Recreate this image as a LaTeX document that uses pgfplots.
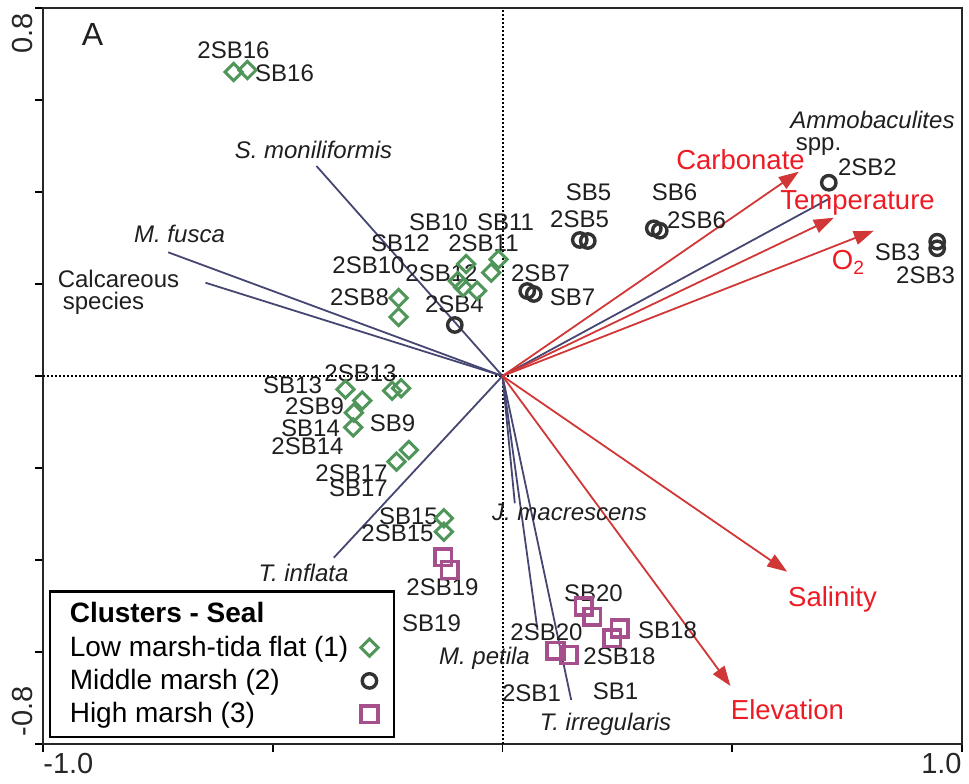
\documentclass[border=0pt]{standalone}
\usepackage{fontspec}
\setmainfont{Liberation Sans}
\usepackage{pgfplots}
\pgfplotsset{compat=1.18}
\usetikzlibrary{arrows.meta}
\definecolor{dgreen}{RGB}{80,150,90}
\definecolor{dcirc}{RGB}{50,50,50}
\definecolor{dsq}{RGB}{165,80,140}
\definecolor{darr}{RGB}{210,55,55}
\definecolor{dtxt}{RGB}{237,28,36}
\definecolor{dspec}{RGB}{70,70,115}
\begin{document}
\begin{tikzpicture}[
  lab/.style={inner sep=0pt, font=\fontsize{12}{12}\selectfont, text=black!88, text height=8.6pt, text depth=0pt},
  spec/.style={lab, font=\fontsize{12}{12}\selectfont\itshape},
  env/.style={inner sep=0pt, font=\fontsize{13.75}{14}\selectfont, text=dtxt, text height=9.85pt, text depth=0pt},
  tl/.style={inner sep=0pt, font=\fontsize{14.5}{14.5}\selectfont, text=black!85}
]
\useasboundingbox (-21.5pt,-19.5pt) rectangle (463pt,372pt);
\begin{axis}[
  at={(0,0)}, anchor=south west,
  scale only axis, width=459.5pt, height=368pt,
  xmin=-1, xmax=1, ymin=-0.8, ymax=0.8,
  xtick={-1,-0.5,0,0.5,1},
  ytick={-0.8,-0.6,-0.4,-0.2,0,0.2,0.4,0.6,0.8},
  xticklabels={}, yticklabels={},
  tick align=outside, xtick pos=left, ytick pos=left,
  major tick length=4pt,
  tick style={line width=0.9pt, black},
  axis line style={line width=1.4pt, black!85},
  clip=false,
  legend plot pos=right,
  legend cell align=left,
  legend style={
    at={(rel axis cs:0.006,0.008)}, anchor=south west,
    draw=black, line width=1.3pt,
    font=\fontsize{14}{16}\selectfont,
    inner xsep=8pt, inner ysep=4pt,
    row sep=2pt,
    nodes={inner xsep=2pt, inner ysep=1.5pt},
  },
]
\addlegendimage{empty legend}
\addlegendentry{\textbf{Clusters - Seal}}

% zero lines
\addplot[forget plot, dash pattern=on 1pt off 1pt, line width=1pt, black] coordinates {(-1,0) (1,0)};
\addplot[forget plot, dash pattern=on 1pt off 1pt, line width=1pt, black] coordinates {(0,-0.8) (0,0.8)};

% species lines
\addplot[forget plot, dspec, line width=0.9pt] coordinates {(0,0) (-0.4048,0.4565)};
\addplot[forget plot, dspec, line width=0.9pt] coordinates {(0,0) (-0.7275,0.2689)};
\addplot[forget plot, dspec, line width=0.9pt] coordinates {(0,0) (-0.6464,0.2028)};
\addplot[forget plot, dspec, line width=0.9pt] coordinates {(0,0) (0.7138,0.3870)};
\addplot[forget plot, dspec, line width=0.9pt] coordinates {(0,0) (-0.3671,-0.3950)};
\addplot[forget plot, dspec, line width=0.9pt] coordinates {(0,0) (0.0268,-0.2767)};
\addplot[forget plot, dspec, line width=0.9pt] coordinates {(0,0) (0.0762,-0.5522)};
\addplot[forget plot, dspec, line width=0.9pt] coordinates {(0,0) (0.1495,-0.7043)};

% environmental arrows
\addplot[forget plot, darr, line width=0.9pt, -{Triangle[length=10pt,width=7pt]}] coordinates {(0,0) (0.6448,0.4441)};
\addplot[forget plot, darr, line width=0.9pt, -{Triangle[length=10pt,width=7pt]}] coordinates {(0,0) (0.7210,0.3441)};
\addplot[forget plot, darr, line width=0.9pt, -{Triangle[length=10pt,width=7pt]}] coordinates {(0,0) (0.8081,0.3159)};
\addplot[forget plot, darr, line width=0.9pt, -{Triangle[length=10pt,width=7pt]}] coordinates {(0,0) (0.6196,-0.4254)};
\addplot[forget plot, darr, line width=0.9pt, -{Triangle[length=10pt,width=7pt]}] coordinates {(0,0) (0.4962,-0.6739)};

% samples
\addplot[only marks, mark=square, mark size=3.05pt, mark options={rotate=45, draw=dgreen, line width=1.5pt}] coordinates {
(-0.5854,0.6609) (-0.5550,0.6652) (-0.2263,0.1696) (-0.2263,0.1283) (-0.0790,0.2435)
(-0.0973,0.2065) (-0.0855,0.1928) (-0.0551,0.1854) (-0.0246,0.2246) (-0.0087,0.2537)
(-0.3417,-0.0289) (-0.3053,-0.0537) (-0.3236,-0.0798) (-0.3249,-0.1115) (-0.2400,-0.0320)
(-0.2205,-0.0267) (-0.2307,-0.1863) (-0.2039,-0.1609) (-0.1277,-0.3093) (-0.1277,-0.3385)};
\addlegendentry{Low marsh-tida flat (1)}
\addplot[only marks, mark=o, mark size=3.6pt, mark options={draw=dcirc, line width=1.7pt}] coordinates {
(-0.1038,0.1109) (0.1682,0.2957) (0.1856,0.2935) (0.3293,0.3211) (0.3423,0.3159)
(0.0538,0.1848) (0.0681,0.1783) (0.7101,0.4202) (0.9460,0.2920) (0.9460,0.2776)};
\addlegendentry{Middle marsh (2)}
\addplot[only marks, mark=square, mark size=4.2pt, mark options={draw=dsq, line width=1.8pt}] coordinates {
(-0.1291,-0.3941) (-0.1147,-0.4217) (0.1769,-0.5015) (0.1952,-0.5233) (0.2553,-0.5485)
(0.2387,-0.5702) (0.1153,-0.5972) (0.1443,-0.6065)};
\addlegendentry{High marsh (3)}

% tick labels
\node[tl, anchor=north west] at ([yshift=-4.5pt]rel axis cs:0,0) {-1.0};
\node[tl, anchor=north east] at ([yshift=-4.5pt]rel axis cs:1,0) {1.0};
\node[tl, rotate=90, anchor=south east] at ([xshift=-4.75pt,yshift=-2.5pt]rel axis cs:0,1) {0.8};
\node[tl, rotate=90, anchor=south west] at ([xshift=-4.75pt,yshift=3.5pt]rel axis cs:0,0) {-0.8};

% panel letter
\node[inner sep=0pt, font=\fontsize{16}{16}\selectfont, text=black!88, text height=11.5pt, text depth=0pt] at (axis cs:-0.8923,0.7435) {A};

% sample labels
\node[lab] at (axis cs:-0.5854,0.7087) {2SB16};
\node[lab] at (axis cs:-0.4744,0.6587) {SB16};
\node[lab] at (axis cs:-0.1393,0.3348) {SB10};
\node[lab] at (axis cs:0.0065,0.3348) {SB11};
\node[lab] at (axis cs:-0.2220,0.2891) {SB12};
\node[lab] at (axis cs:-0.0413,0.2891) {2SB11};
\node[lab] at (axis cs:-0.2916,0.2413) {2SB10};
\node[lab] at (axis cs:-0.1328,0.2239) {2SB12};
\node[lab] at (axis cs:-0.3112,0.1717) {2SB8};
\node[lab] at (axis cs:-0.1045,0.1565) {2SB4};
\node[lab] at (axis cs:0.1872,0.4000) {SB5};
\node[lab] at (axis cs:0.1676,0.3413) {2SB5};
\node[lab] at (axis cs:0.3743,0.4000) {SB6};
\node[lab] at (axis cs:0.4222,0.3391) {2SB6};
\node[lab] at (axis cs:0.0827,0.2239) {2SB7};
\node[lab] at (axis cs:0.1523,0.1717) {SB7};
\node[lab] at (axis cs:0.7943,0.4543) {2SB2};
\node[lab] at (axis cs:0.8596,0.2696) {SB3};
\node[lab] at (axis cs:0.9206,0.2196) {2SB3};
\node[lab] at (axis cs:-0.3090,0.0065) {2SB13};
\node[lab] at (axis cs:-0.4570,-0.0196) {SB13};
\node[lab] at (axis cs:-0.4091,-0.0652) {2SB9};
\node[lab] at (axis cs:-0.2394,-0.1022) {SB9};
\node[lab] at (axis cs:-0.4178,-0.1130) {SB14};
\node[lab] at (axis cs:-0.4244,-0.1522) {2SB14};
\node[lab] at (axis cs:-0.3286,-0.2109) {2SB17};
\node[lab] at (axis cs:-0.3134,-0.2435) {SB17};
\node[lab] at (axis cs:-0.2046,-0.3043) {SB15};
\node[lab] at (axis cs:-0.2285,-0.3413) {2SB15};
\node[lab] at (axis cs:-0.1306,-0.4587) {2SB19};
\node[lab] at (axis cs:-0.1545,-0.5370) {SB19};
\node[lab] at (axis cs:0.1980,-0.4717) {SB20};
\node[lab] at (axis cs:0.0958,-0.5565) {2SB20};
\node[lab] at (axis cs:0.3591,-0.5522) {SB18};
\node[lab] at (axis cs:0.2546,-0.6087) {2SB18};
\node[lab] at (axis cs:0.0631,-0.6891) {2SB1};
\node[lab] at (axis cs:0.2459,-0.6848) {SB1};

% species labels
\node[spec] at (axis cs:-0.4113,0.4913) {S. moniliformis};
\node[spec] at (axis cs:-0.7029,0.3087) {M. fusca};
\node[lab] at (axis cs:-0.8357,0.2109) {Calcareous};
\node[lab] at (axis cs:-0.8683,0.1630) {species};
\node[spec] at (axis cs:0.8052,0.5565) {Ammobaculites};
\node[lab] at (axis cs:0.6877,0.5087) {spp.};
\node[spec] at (axis cs:0.1458,-0.2957) {J. macrescens};
\node[spec] at (axis cs:-0.4331,-0.4283) {T. inflata};
\node[spec] at (axis cs:-0.0392,-0.6087) {M. petila};
\node[spec] at (axis cs:0.2242,-0.7522) {T. irregularis};

% environmental labels
\node[env] at (axis cs:0.5180,0.4696) {Carbonate};
\node[env] at (axis cs:0.7726,0.3826) {Temperature};
\node[env] at (axis cs:0.7530,0.2522) {O\textsubscript{2}};
\node[env] at (axis cs:0.7182,-0.4804) {Salinity};
\node[env] at (axis cs:0.6202,-0.7261) {Elevation};
\end{axis}
\end{tikzpicture}
\end{document}
